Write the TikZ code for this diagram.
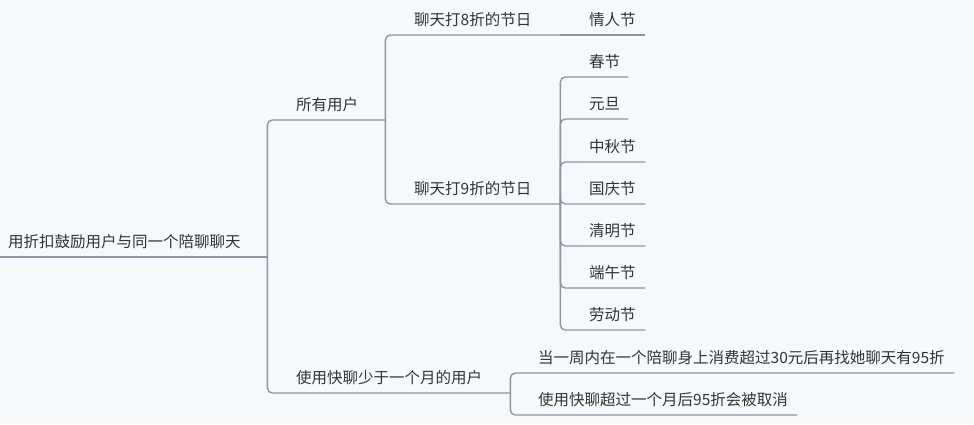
\documentclass[tikz,border=0pt]{standalone}
\usepackage{fontspec}
\usepackage{xcolor}
\usepackage{tikz}
\newfontfamily\cjkfont{Noto Sans CJK SC}
\definecolor{paper}{HTML}{F5F9FC}
\definecolor{twig}{HTML}{8C95A4}
\definecolor{ink}{HTML}{333333}

\begin{document}
\begin{tikzpicture}[x=1pt, y=-1pt,
    every node/.style={font=\cjkfont\fontsize{15.5}{18}\selectfont, text=ink},
    topic/.style={anchor=south west, inner xsep=0pt, inner ysep=6.5pt, text width=#1, align=left, text height=11pt, text depth=3pt},
    branch/.style={draw=twig, line width=1.4pt, rounded corners=5pt}]
    \fill[paper] (0,0) rectangle (974,424);
    \useasboundingbox (0,0) rectangle (974,424);
    % topics
    \node[topic=259pt] (root) at (8,257) {用折扣鼓励用户与同一个陪聊聊天};
    \node[topic=89pt] (all) at (296,120) {所有用户};
    \node[topic=214pt] (newbie) at (296,393) {使用快聊少于一个月的用户};
    \node[topic=146pt] (off8) at (414,35) {聊天打8折的节日};
    \node[topic=146pt] (off9) at (414,204) {聊天打9折的节日};
    \node[topic=56pt] (valentine) at (589,35) {情人节};
    \node[topic=416pt] (weekly) at (538,373) {当一周内在一个陪聊身上消费超过30元后再找她聊天有95折};
    \node[topic=259pt] (cancel) at (538,415) {使用快聊超过一个月后95折会被取消};
    % branches
    \coordinate (stem) at (0,257);
    \draw[branch] (stem) -- (root.south east);
    \draw[branch] (root.south east) |- (all.south east);
    \draw[branch] (root.south east) |- (newbie.south east);
    \draw[branch] (all.south east) |- (off8.south east);
    \draw[branch] (all.south east) |- (off9.south east);
    \draw[branch] (off8.south east) -- (valentine.south east);
    \foreach \nm/\txt/\y/\w in {spring/春节/77/39pt, newyear/元旦/119/39pt,
        midautumn/中秋节/162/56pt, national/国庆节/204/56pt, qingming/清明节/246/56pt,
        dragon/端午节/288/56pt, labour/劳动节/330/56pt} {
        \node[topic=\w] (\nm) at (589,\y) {\txt};
        \draw[branch] (off9.south east) |- (\nm.south east);
    }
    \draw[branch] (newbie.south east) |- (weekly.south east);
    \draw[branch] (newbie.south east) |- (cancel.south east);
\end{tikzpicture}
\end{document}
